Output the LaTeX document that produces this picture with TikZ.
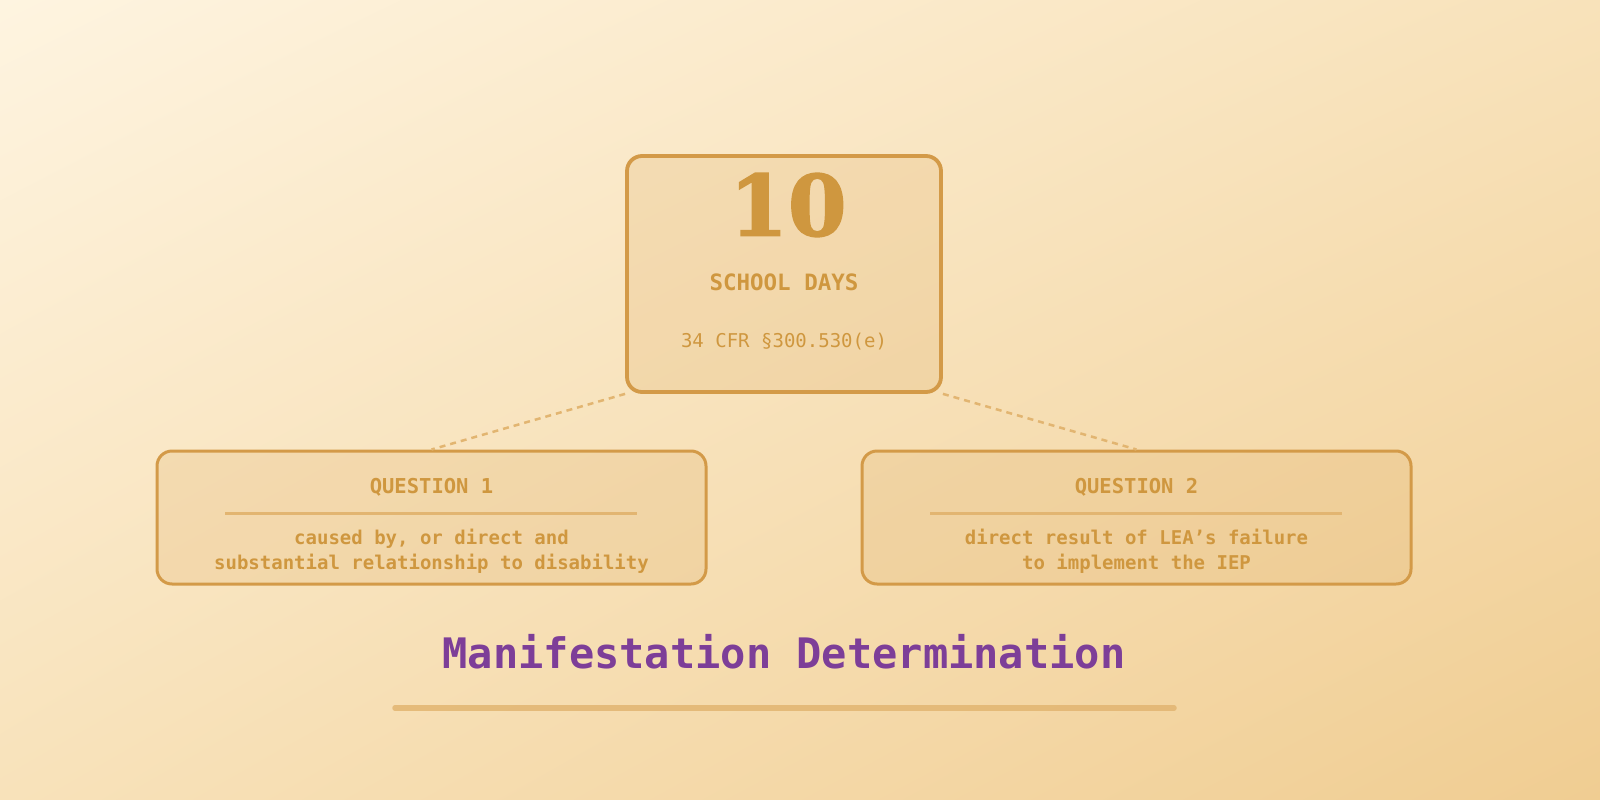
\documentclass[tikz,border=0pt]{standalone}
\usepackage{fontspec}
\setmainfont{DejaVu Sans Mono}
\newfontfamily\numfont[BoldFeatures={FakeBold=2}]{DejaVu Serif}
\usetikzlibrary{positioning,shadings}

\definecolor{bgtop}{HTML}{FEF4E0}
\definecolor{bgmid}{HTML}{F8E2BA}
\definecolor{bgbot}{HTML}{F0CD92}
\definecolor{goldline}{HTML}{D39A48}
\definecolor{goldtext}{HTML}{CF973F}
\definecolor{goldsoft}{HTML}{E2B571}
\definecolor{titlepurple}{HTML}{7D3E98}

\tikzset{
  card/.style={draw=goldline, line width=3.8pt, rounded corners=15pt,
    fill=goldsoft, fill opacity=0.25, draw opacity=1, text opacity=1},
  qcard/.style={card, line width=3pt, minimum width=549pt, minimum height=133pt},
  label/.style={text=goldtext, font=\bfseries, inner sep=0pt},
  link/.style={draw=goldsoft, line width=2.5pt, dash pattern=on 6pt off 5pt}
}

\begin{document}
\begin{tikzpicture}[x=1pt, y=-1pt]
  \shade[upper left=bgtop, upper right=bgmid, lower left=bgmid, lower right=bgbot]
    (0,0) rectangle (1600,800);
  \useasboundingbox (0,0) rectangle (1600,800);

  % deadline card
  \node[card, minimum width=314pt, minimum height=236pt] (days) at (784,274) {};
  \node[label, font=\numfont\bfseries\fontsize{84}{84}\selectfont] (num) at (788,205) {10};
  \node[label, font=\bfseries\fontsize{22.5}{22.5}\selectfont] (unit) at (784,282) {SCHOOL DAYS};
  \node[label, font=\fontsize{19}{19}\selectfont] (cite) at (784,342) {34 CFR §300.530(e)};

  % the two questions
  \node[qcard] (q1) at (431.5,517.5) {};
  \node[qcard] (q2) at (1136.5,517.5) {};
  \node[label, font=\bfseries\fontsize{20.5}{20.5}\selectfont] (q1head) at (431.5,487) {QUESTION 1};
  \node[label, font=\bfseries\fontsize{20.5}{20.5}\selectfont] (q2head) at (1136.5,487) {QUESTION 2};
  \draw[goldsoft, line width=3pt] (225,513) -- (637,513);
  \draw[goldsoft, line width=3pt] (930,513) -- (1342,513);
  \node[label, font=\bfseries\fontsize{19}{25}\selectfont, align=center] (q1text) at (431.5,551)
    {caused by, or direct and\\substantial relationship to disability};
  \node[label, font=\bfseries\fontsize{19}{25}\selectfont, align=center] (q2text) at (1136.5,551)
    {direct result of LEA's failure\\to implement the IEP};

  \path[link]
  (days.south west) edge (q1.north)
  (days.south east) edge (q2.north);

  % title
  \node[text=titlepurple, font=\bfseries\fontsize{42}{42}\selectfont, inner sep=0pt] (title) at (784,652)
    {Manifestation Determination};
  \draw[goldsoft, opacity=0.85, line width=5.5pt, line cap=round] (395,708) -- (1174,708);
\end{tikzpicture}
\end{document}
